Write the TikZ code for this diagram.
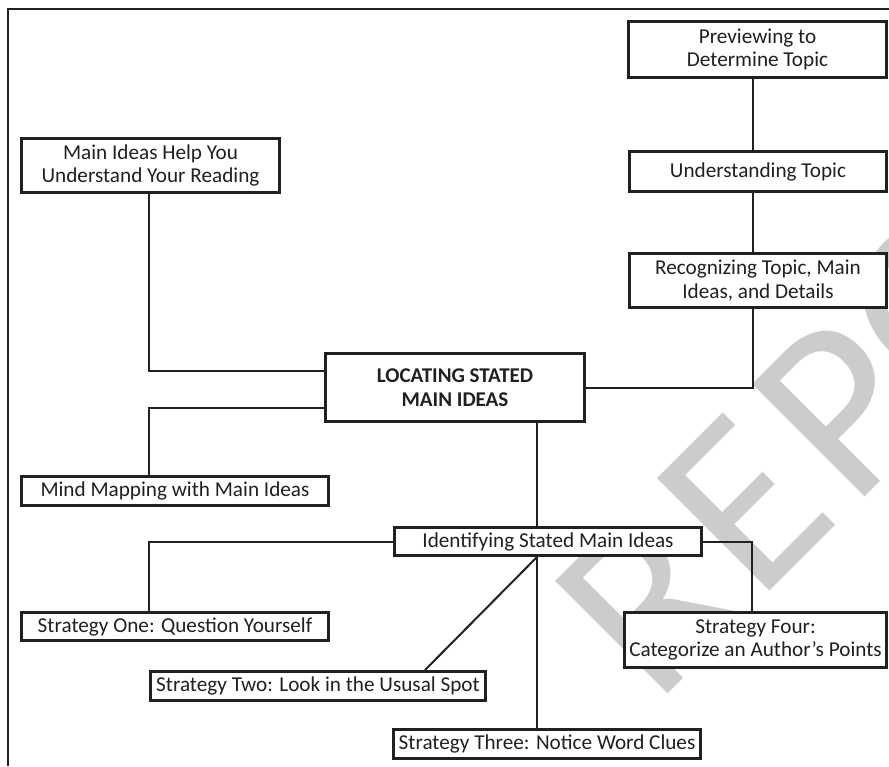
\documentclass[tikz,border=0pt]{standalone}
\usepackage{fontspec}
\setmainfont{Carlito}
\definecolor{ink}{HTML}{231F20}
\definecolor{wmark}{HTML}{CCCCCC}
\tikzset{
  box/.style={draw=ink, line width=3pt, fill=white, text=ink, inner sep=0pt, align=center,
    font=\fontsize{21.2}{23.4}\selectfont},
  conn/.style={draw=ink, line width=2pt},
  wm/.style={rotate=45, anchor=base west, text=wmark, inner sep=0pt,
    font=\fontsize{248}{248}\selectfont},
}
\begin{document}
\begin{tikzpicture}[x=1pt, y=-1pt]
\useasboundingbox (0,0) rectangle (889,766);
% watermark
\begin{scope}
\clip (0,0) rectangle (889,766);
\node[wm] (wmR) at (655,707) {R};
\node[wm] (wmE) at (757,604) {E};
\node[wm] (wmP) at (852,510) {P};
\node[wm] (wmO) at (940,415) {O};
\end{scope}
% frame
\draw[ink, line width=2pt] (8,766) -- (8,9) -- (889,9);
% coordinates for connector columns
\coordinate (cR) at (753,0);
\coordinate (cL) at (149,0);
\coordinate (cM) at (537,0);
\coordinate (cF) at (752,0);
\coordinate (cD) at (425,0);
% boxes
\node[box, minimum width=258pt, minimum height=56pt] (prev) at (757.5,49.5) {Previewing to\\Determine Topic};
\node[box, minimum width=257pt, minimum height=40pt] (und) at (758,171.5) {Understanding Topic};
\node[box, minimum width=257pt, minimum height=54pt] (rec) at (758,280.5) {Recognizing Topic, Main\\Ideas, and Details};
\node[box, minimum width=258pt, minimum height=54pt] (help) at (150.5,165.5) {Main Ideas Help You\\Understand Your Reading};
\node[box, minimum width=259pt, minimum height=68pt, font=\fontsize{21}{24}\selectfont\bfseries] (main) at (455,387.5) {LOCATING STATED\\MAIN IDEAS};
\node[box, minimum width=307pt, minimum height=29pt] (mind) at (175,491) {Mind Mapping with Main Ideas};
\node[box, minimum width=307pt, minimum height=28pt] (ident) at (548,541.5) {Identifying Stated Main Ideas};
\node[box, minimum width=307pt, minimum height=28pt] (s1) at (175,626.5) {Strategy One: Question Yourself};
\node[box, minimum width=335pt, minimum height=29pt] (s2) at (318,686) {Strategy Two: Look in the Ususal Spot};
\node[box, minimum width=307pt, minimum height=29pt] (s3) at (547,744) {Strategy Three: Notice Word Clues};
\node[box, minimum width=262pt, minimum height=55pt] (s4) at (755.5,640) {Strategy Four:\\Categorize an Author’s Points};
% connectors
\draw[conn] (prev.south -| cR) -- (und.north -| cR);
\draw[conn] (und.south -| cR) -- (rec.north -| cR);
\draw[conn] (rec.south -| cR) |- (main.east);
\draw[conn] (help.south -| cL) |- ([yshift=16.5pt]main.west);
\draw[conn] (mind.north -| cL) |- ([yshift=-20.5pt]main.west);
\draw[conn] (main.south -| cM) -- (ident.north -| cM);
\draw[conn] (ident.west) -| (s1.north -| cL);
\draw[conn] (ident.south -| cM) -- (s2.north -| cD);
\draw[conn] (ident.south -| cM) -- (s3.north -| cM);
\draw[conn] (ident.east) -| (s4.north -| cF);
\end{tikzpicture}
\end{document}
